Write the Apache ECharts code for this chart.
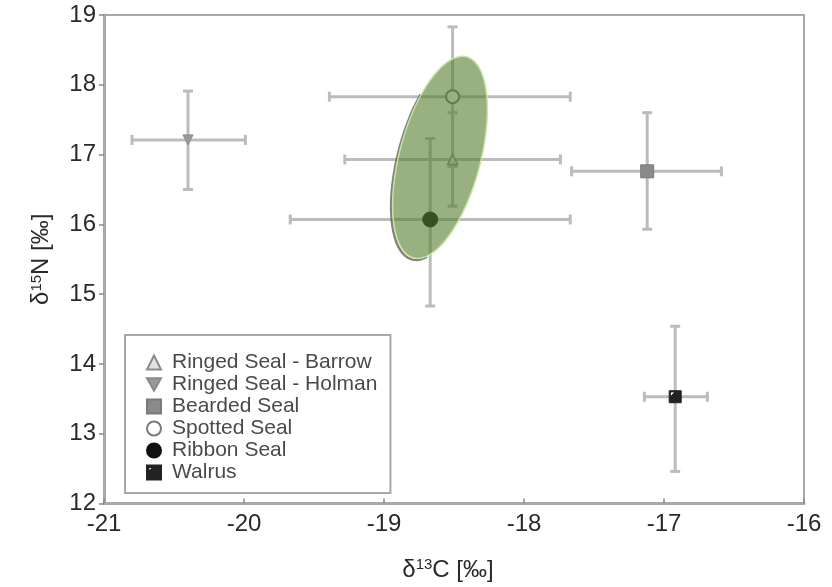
<!DOCTYPE html>
<html>
<head>
<meta charset="utf-8">
<script src="https://cdn.jsdelivr.net/npm/echarts@6/dist/echarts.min.js"></script>
<style>html,body{margin:0;padding:0;background:#fff;}#c{width:832px;height:587px;}</style>
</head>
<body>
<div id="c"></div>
<script>
// ---- data ----
const species = ['Ringed Seal - Barrow', 'Ringed Seal - Holman', 'Bearded Seal', 'Spotted Seal', 'Ribbon Seal', 'Walrus'];
const d13C  = [-18.51, -20.40, -17.12, -18.51, -18.67, -16.92];
const d15N  = [16.93, 17.21, 16.76, 17.83, 16.07, 13.53];
const cLow  = [-19.28, -20.80, -17.66, -19.39, -19.67, -17.14];
const cHigh = [-17.74, -19.99, -16.59, -17.67, -17.67, -16.69];
const nLow  = [16.26, 16.50, 15.93, 16.83, 14.83, 12.46];
const nHigh = [17.60, 17.91, 17.60, 18.83, 17.23, 14.54];
// ellipse: centre, end of major semi-axis (data units), minor/major ratio
const ellipseCentre = [-18.60, 16.96];
const ellipseMajorEnd = [-18.41, 18.40];
const ellipseRatio = 0.39;
const xTicks = [-21, -20, -19, -18, -17, -16];
const yTicks = [12, 13, 14, 15, 16, 17, 18, 19];

// ---- styles ----
const symbols = [
  'triangle',
  'path://M0,0 L10,0 L5,9 Z',
  'rect',
  'circle',
  'circle',
  'path://M0,0 L10,0 L10,10 L0,10 Z M1,1 L1,5 L5,1 Z'
];
const sizes = [10, 10, 13, 13, 15, 12];
const fills = ['#e2e2e2', '#9a9a9a', '#8a8a8a', '#ffffff', '#111111', '#222222'];
const borders = ['#8a8a8a', '#8a8a8a', '#7a7a7a', '#7a7a7a', '#111111', '#222222'];
const borderWidths = [1.5, 1, 1, 2, 1, 1];

const chart = echarts.init(document.getElementById('c'), null, {renderer: 'canvas'});

const errData = species.map((s, i) => [d13C[i], d15N[i], cLow[i], cHigh[i], nLow[i], nHigh[i]]);

const errSeries = {
  type: 'custom',
  name: 'err',
  silent: true,
  z: 2,
  data: errData,
  renderItem: function (params, api) {
    const x = api.value(0), y = api.value(1);
    const pL = api.coord([api.value(2), y]);
    const pR = api.coord([api.value(3), y]);
    const pB = api.coord([x, api.value(4)]);
    const pT = api.coord([x, api.value(5)]);
    const cap = 5;
    const st = {stroke: '#bcbcbc', lineWidth: 3};
    const line = (x1, y1, x2, y2) => ({type: 'line', shape: {x1, y1, x2, y2}, style: st});
    return {
      type: 'group',
      children: [
        line(pL[0], pL[1], pR[0], pR[1]),
        line(pL[0], pL[1] - cap, pL[0], pL[1] + cap),
        line(pR[0], pR[1] - cap, pR[0], pR[1] + cap),
        line(pB[0], pB[1], pT[0], pT[1]),
        line(pB[0] - cap, pB[1], pB[0] + cap, pB[1]),
        line(pT[0] - cap, pT[1], pT[0] + cap, pT[1])
      ]
    };
  }
};

const pointSeries = species.map((s, i) => ({
  type: 'scatter',
  name: s,
  z: 3,
  symbol: symbols[i],
  symbolSize: sizes[i],
  itemStyle: {color: fills[i], borderColor: borders[i], borderWidth: borderWidths[i], opacity: 1},
  data: [[d13C[i], d15N[i]]],
  emphasis: {disabled: true}
}));

const ellipseSeries = {
  type: 'custom',
  name: 'ellipse',
  silent: true,
  z: 5,
  data: [[ellipseCentre[0], ellipseCentre[1], ellipseMajorEnd[0], ellipseMajorEnd[1]]],
  renderItem: function (params, api) {
    const c = api.coord([api.value(0), api.value(1)]);
    const e = api.coord([api.value(2), api.value(3)]);
    const vx = e[0] - c[0], vy = e[1] - c[1];
    const a = Math.sqrt(vx * vx + vy * vy);
    const b = a * ellipseRatio;
    const ux = vx / a, uy = vy / a;      // major direction
    const px = -uy, py = ux;             // minor direction
    const pts = [];
    const shadowPts = [];
    const N = 160;
    for (let k = 0; k < N; k++) {
      const t = k / N * Math.PI * 2;
      const ca = Math.cos(t) * a, sb = Math.sin(t) * b;
      const X = c[0] + ux * ca + px * sb, Y = c[1] + uy * ca + py * sb;
      pts.push([X, Y]);
      // outward normal ~ gradient of the ellipse equation
      const nx = ux * Math.cos(t) / a + px * Math.sin(t) / b;
      const ny = uy * Math.cos(t) / a + py * Math.sin(t) / b;
      const nl = Math.sqrt(nx * nx + ny * ny);
      if ((-nx + ny) / nl / Math.SQRT2 > 0.25) shadowPts.push({k, p: [X - 1.5, Y + 1.5]});
    }
    // order the shadow arc continuously
    shadowPts.sort((p, q) => p.k - q.k);
    let arc = shadowPts.map(o => o.p);
    for (let j = 1; j < shadowPts.length; j++) {
      if (shadowPts[j].k - shadowPts[j - 1].k > 1) {
        arc = shadowPts.slice(j).map(o => o.p).concat(shadowPts.slice(0, j).map(o => o.p));
        break;
      }
    }
    return {
      type: 'group',
      children: [
        {type: 'polyline', shape: {points: arc}, style: {stroke: 'rgba(90,90,90,0.75)', lineWidth: 2.5, fill: null}},
        {
          type: 'polygon',
          shape: {points: pts},
          style: {fill: 'rgba(85,125,45,0.6)', stroke: 'rgba(200,230,165,0.95)', lineWidth: 1.5}
        }
      ]
    };
  }
};

const option = {
  backgroundColor: '#ffffff',
  animation: false,
  grid: {
    left: 104, right: 28, top: 15, bottom: 82,
    show: true, borderColor: '#a8a8a8', borderWidth: 2, backgroundColor: 'transparent'
  },
  xAxis: {
    type: 'value', min: xTicks[0], max: xTicks[xTicks.length - 1], interval: 1,
    splitLine: {show: false},
    axisLine: {show: true, lineStyle: {color: '#a8a8a8', width: 3}},
    axisTick: {show: true, inside: true, length: 5, lineStyle: {color: '#888', width: 1.5}},
    axisLabel: {color: '#2a2a2a', fontSize: 24, fontFamily: 'Liberation Sans', margin: 9},
    name: '{a|δ}{s|13}{a|C [‰]}',
    nameLocation: 'middle',
    nameGap: 54,
    nameTextStyle: {
      padding: [0, 12, 0, 0],
      rich: {
        a: {fontSize: 24, fontFamily: 'Liberation Sans', color: '#2a2a2a'},
        s: {fontSize: 15, fontFamily: 'Liberation Sans', color: '#2a2a2a', verticalAlign: 'top', padding: [0, 0, 10, 0]}
      }
    }
  },
  yAxis: {
    type: 'value', min: yTicks[0], max: yTicks[yTicks.length - 1], interval: 1,
    splitLine: {show: false},
    axisLine: {show: true, lineStyle: {color: '#a8a8a8', width: 3}},
    axisTick: {show: true, inside: false, length: 5, lineStyle: {color: '#888', width: 1.5}},
    axisLabel: {color: '#2a2a2a', fontSize: 24, fontFamily: 'Liberation Sans', margin: 8},
    name: '{a|δ}{s|15}{a|N [‰]}',
    nameLocation: 'middle',
    nameRotate: 90,
    nameGap: 50,
    nameTextStyle: {
      rich: {
        a: {fontSize: 24, fontFamily: 'Liberation Sans', color: '#2a2a2a'},
        s: {fontSize: 15, fontFamily: 'Liberation Sans', color: '#2a2a2a', verticalAlign: 'top', padding: [0, 0, 10, 0]}
      }
    }
  },
  legend: {
    orient: 'vertical',
    left: 125, top: 335,
    padding: [17, 13, 10, 21],
    itemGap: 1,
    itemWidth: 14, itemHeight: 14,
    borderColor: '#a8a8a8', borderWidth: 2,
    backgroundColor: '#ffffff',
    data: species,
    textStyle: {fontSize: 21, fontFamily: 'Liberation Sans', color: '#4a4a4a', lineHeight: 21, padding: [0, 0, 0, 6]}
  },
  series: [errSeries].concat(pointSeries).concat([ellipseSeries])
};
chart.setOption(option);
</script>
</body>
</html>
